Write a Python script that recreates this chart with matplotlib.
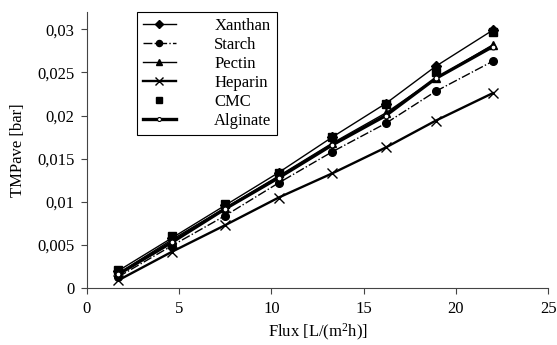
import matplotlib.pyplot as plt
from matplotlib.ticker import FuncFormatter

plt.rcParams['font.family'] = ['Liberation Serif', 'DejaVu Serif']
plt.rcParams['mathtext.default'] = 'regular'

# flux values [L/(m2h)]
flux = [1.7, 4.6, 7.5, 10.4, 13.3, 16.2, 18.9, 22.0]

# TMPave [bar] per polysaccharide
xanthan = [0.0020, 0.0058, 0.0096, 0.0134, 0.0175, 0.0214, 0.0257, 0.0299]
starch = [0.0013, 0.0049, 0.0084, 0.0122, 0.0158, 0.0191, 0.0228, 0.0263]
pectin = [0.0017, 0.0056, 0.0093, 0.0130, 0.0168, 0.0203, 0.0243, 0.0282]
heparin = [0.0009, 0.0042, 0.0073, 0.0105, 0.0133, 0.0163, 0.0194, 0.0226]
cmc = [0.0021, 0.0060, 0.0098, 0.0134, 0.0175, 0.0213, 0.0250, 0.0297]
alginate = [0.0016, 0.0053, 0.0092, 0.0128, 0.0166, 0.0200, 0.0243, 0.0280]

fig = plt.figure(figsize=(5.57, 3.45), dpi=100)
ax = fig.add_axes([0.156, 0.165, 0.828, 0.80])

ax.plot(flux, xanthan, color='black', lw=1.0, marker='D', ms=5, label='Xanthan')
ax.plot(flux, starch, color='black', lw=1.0, ls='-.', marker='o', ms=5.5, label='Starch')
ax.plot(flux, pectin, color='black', lw=1.0, marker='^', ms=6, label='Pectin')
ax.plot(flux, heparin, color='black', lw=1.7, marker='x', ms=7, mew=1.0, label='Heparin')
ax.plot(flux, cmc, color='black', ls='none', marker='s', ms=6, label='CMC')
ax.plot(flux, alginate, color='black', lw=2.4, marker='o', ms=3.5, mfc='white', mec='black', mew=0.8, label='Alginate')

ax.set_xlim(0, 25)
ax.set_ylim(0, 0.032)
ax.set_xticks([0, 5, 10, 15, 20, 25])
ax.set_yticks([0, 0.005, 0.01, 0.015, 0.02, 0.025, 0.03])
ax.yaxis.set_major_formatter(FuncFormatter(lambda v, p: ('%g' % v).replace('.', ',')))

for s in ['top', 'right']:
    ax.spines[s].set_visible(False)
for s in ['left', 'bottom']:
    ax.spines[s].set_color('#444444')
ax.tick_params(direction='out', length=4, width=0.8, color='#444444', labelsize=12, pad=5)

ax.set_xlabel('Flux [L/(m$^2$h)]', fontsize=12, labelpad=4)
ax.set_ylabel('TMPave [bar]', fontsize=12, labelpad=8)

leg = ax.legend(loc='upper left', bbox_to_anchor=(0.108, 1.0), fontsize=12, markerscale=0.8,
                frameon=True, fancybox=False, edgecolor='black', framealpha=1,
                handlelength=2.0, handletextpad=2.3, labelspacing=0.18, borderpad=0.35,
                borderaxespad=0.0)
leg.get_frame().set_linewidth(0.8)

fig.savefig('out.png', dpi=100)
